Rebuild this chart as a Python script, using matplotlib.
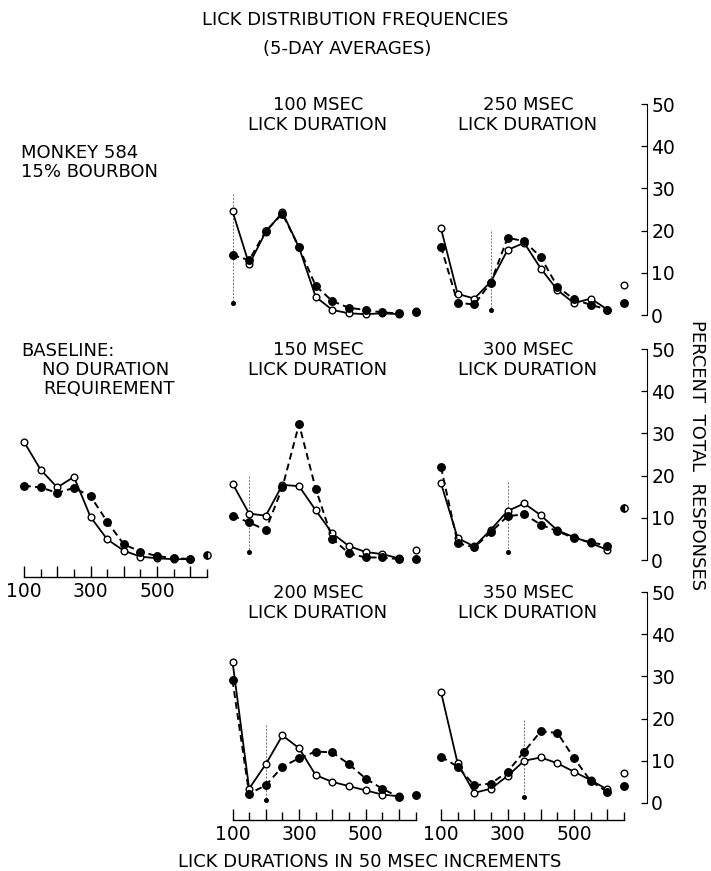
import matplotlib
matplotlib.use('Agg')
import matplotlib.pyplot as plt

plt.rcParams['font.family'] = ['DejaVu Sans']

W, H = 711, 871

# ---------------- data ----------------
durations = [100, 150, 200, 250, 300, 350, 400, 450, 500, 550, 600]
extra_x = 650
tick_major = [100, 200, 300, 400, 500, 600]
tick_major_labels = ['100', '', '300', '', '500', '']
tick_minor = [150, 250, 350, 450, 550, 650]
pct_ticks = [0, 10, 20, 30, 40, 50]

# baseline: no duration requirement
base_open = [28.0, 21.4, 17.2, 19.7, 10.2, 4.9, 2.2, 0.8, 0.4, 0.2, 0.2]
base_filled = [17.6, 17.2, 15.9, 17.1, 15.1, 9.1, 3.7, 2.0, 0.9, 0.5, 0.2]
base_extra_half = 1.1

# 100 msec
open_100 = [24.6, 12.0, 19.7, 24.3, 16.0, 4.3, 1.2, 0.4, 0.2, 0.4, 0.2]
filled_100 = [14.2, 13.0, 19.9, 24.0, 16.0, 6.9, 3.3, 1.7, 1.2, 0.6, 0.4]
open_100_extra = 0.9
filled_100_extra = 0.8

# 250 msec
open_250 = [20.5, 5.0, 3.9, 7.9, 15.4, 17.1, 11.0, 5.9, 2.8, 3.9, 1.3]
filled_250 = [16.2, 2.9, 2.5, 7.7, 18.3, 17.5, 13.7, 6.7, 3.7, 2.4, 1.3]
open_250_extra = 7.1
filled_250_extra = 2.9

# 150 msec
open_150 = [18.1, 11.0, 10.5, 17.8, 17.5, 11.8, 6.3, 3.3, 1.9, 1.4, 0.4]
filled_150 = [10.5, 8.9, 7.1, 17.2, 32.2, 16.9, 5.0, 1.6, 0.6, 0.6, 0.2]
open_150_extra = 2.3
filled_150_extra = 0.2

# 300 msec
open_300 = [18.2, 5.2, 3.2, 7.2, 11.6, 13.4, 10.6, 7.0, 5.4, 4.0, 2.4]
filled_300 = [22.0, 4.0, 3.0, 6.6, 10.4, 10.8, 8.4, 6.8, 5.2, 4.2, 3.4]
half_300_extra = 12.4

# 200 msec
open_200 = [33.5, 3.4, 9.2, 16.0, 13.0, 6.6, 5.0, 4.0, 3.0, 2.0, 1.6]
filled_200 = [29.1, 2.2, 4.2, 8.6, 10.6, 12.2, 12.0, 9.2, 5.8, 3.4, 1.4]
filled_200_extra = 2.0

# 350 msec
open_350 = [26.3, 9.4, 2.4, 3.4, 6.4, 10.0, 10.8, 9.4, 7.4, 5.4, 3.2]
filled_350 = [11.0, 8.6, 4.2, 4.6, 7.4, 12.2, 17.0, 16.6, 10.6, 5.2, 2.6]
open_350_extra = 7.2
filled_350_extra = 4.0

# criterion (required lick duration) markers
crit_x = {'100': 100, '250': 250, '150': 150, '300': 300, '200': 200, '350': 350}
crit_top = {'100': 28.7, '250': 20.0, '150': 20.0, '300': 18.5, '200': 18.4, '350': 19.7}
crit_dot = {'100': 2.8, '250': 1.2, '150': 2.0, '300': 2.0, '200': 0.8, '350': 1.4}

# ---------------- layout helpers ----------------
fig = plt.figure(figsize=(W / 100, H / 100), dpi=100)

def fx(px):
    return px / W

def fy(py):
    return 1 - py / H

K = 183 / 550.0   # px per msec
S = 4.22          # px per percent
XLIM = (85, 665)
YLIM = (-4, 52)
FS = 13

def make_ax(x100, y0):
    left = x100 - (100 - XLIM[0]) * K
    width = (XLIM[1] - XLIM[0]) * K
    top = y0 - YLIM[1] * S
    bottom = y0 - YLIM[0] * S
    ax = fig.add_axes([fx(left), fy(bottom), width / W, (bottom - top) / H])
    ax.set_xlim(*XLIM)
    ax.set_ylim(*YLIM)
    ax.patch.set_alpha(0)
    for sp in ax.spines.values():
        sp.set_visible(False)
    ax.set_xticks([])
    ax.set_yticks([])
    return ax

def plot_series(ax, op, fi):
    ax.plot(durations, op, '-', color='k', lw=1.3, marker='o', ms=4.8,
            mfc='white', mec='k', mew=1.0, zorder=3)
    ax.plot(durations, fi, color='k', lw=1.4, ls=(0, (3.5, 2.2)), marker='o',
            ms=5.4, mfc='k', mec='k', zorder=4)

def extra_open(ax, v):
    ax.plot([extra_x], [v], 'o', ms=4.8, mfc='white', mec='k', mew=1.0, zorder=3)

def extra_filled(ax, v):
    ax.plot([extra_x], [v], 'o', ms=5.4, mfc='k', mec='k', zorder=4)

def extra_half(ax, v):
    ax.plot([extra_x], [v], 'o', ms=5.2, mfc='k', mfcalt='white', fillstyle='left',
            mec='k', mew=1.0, zorder=4)

def crit(ax, key):
    c = crit_x[key]
    ax.plot([c, c], [crit_top[key], crit_dot[key]], color='0.45', lw=0.7,
            ls=(0, (2, 1.5)), zorder=1)
    ax.plot([c], [crit_dot[key]], 'o', ms=2.6, color='k', zorder=2)

def bottom_axis(ax):
    sp = ax.spines['bottom']
    sp.set_visible(True)
    sp.set_bounds(100, 650)
    sp.set_linewidth(1.0)
    ax.set_xticks(tick_major, tick_major_labels)
    ax.set_xticks(tick_minor, minor=True)
    ax.tick_params(axis='x', which='major', direction='in', length=8, width=1.0,
                   pad=4, labelsize=13.5)
    ax.tick_params(axis='x', which='minor', direction='in', length=5.5, width=1.0)

def right_axis(ax):
    sp = ax.spines['right']
    sp.set_visible(True)
    sp.set_bounds(0, 50)
    sp.set_position(('outward', 13))
    sp.set_linewidth(0.8)
    ax.yaxis.tick_right()
    ax.set_yticks(pct_ticks)
    ax.tick_params(axis='y', direction='in', length=4, width=0.9, pad=3,
                   labelsize=13.5, left=False, right=True)

X_BASE, X_MID, X_RIGHT = 24, 232.5, 441
Y0 = [315, 560, 803]

def panel_title(xc, y0, name):
    fig.text(fx(xc), fy(y0 - 210), name, ha='center', va='center', fontsize=FS)
    fig.text(fx(xc), fy(y0 - 190), 'LICK DURATION', ha='center', va='center', fontsize=FS)

# ---------------- row 1 ----------------
ax = make_ax(X_MID, Y0[0])
plot_series(ax, open_100, filled_100)
extra_open(ax, open_100_extra)
extra_filled(ax, filled_100_extra)
crit(ax, '100')
panel_title(318, Y0[0], '100 MSEC')

ax = make_ax(X_RIGHT, Y0[0])
plot_series(ax, open_250, filled_250)
extra_open(ax, open_250_extra)
extra_filled(ax, filled_250_extra)
crit(ax, '250')
right_axis(ax)
panel_title(528, Y0[0], '250 MSEC')

# ---------------- row 2 ----------------
ax = make_ax(X_BASE, Y0[1])
plot_series(ax, base_open, base_filled)
extra_half(ax, base_extra_half)
bottom_axis(ax)

ax = make_ax(X_MID, Y0[1])
plot_series(ax, open_150, filled_150)
extra_open(ax, open_150_extra)
extra_filled(ax, filled_150_extra)
crit(ax, '150')
panel_title(318, Y0[1], '150 MSEC')

ax = make_ax(X_RIGHT, Y0[1])
plot_series(ax, open_300, filled_300)
extra_half(ax, half_300_extra)
crit(ax, '300')
right_axis(ax)
panel_title(528, Y0[1], '300 MSEC')

# ---------------- row 3 ----------------
ax = make_ax(X_MID, Y0[2])
plot_series(ax, open_200, filled_200)
extra_filled(ax, filled_200_extra)
crit(ax, '200')
bottom_axis(ax)
panel_title(318, Y0[2], '200 MSEC')

ax = make_ax(X_RIGHT, Y0[2])
plot_series(ax, open_350, filled_350)
extra_open(ax, open_350_extra)
extra_filled(ax, filled_350_extra)
crit(ax, '350')
bottom_axis(ax)
right_axis(ax)
panel_title(528, Y0[2], '350 MSEC')

# ---------------- texts ----------------
fig.text(fx(355), fy(20), 'LICK DISTRIBUTION FREQUENCIES', ha='center', va='center', fontsize=FS)
fig.text(fx(347), fy(49), '(5-DAY AVERAGES)', ha='center', va='center', fontsize=FS)
fig.text(fx(21), fy(153), 'MONKEY 584', ha='left', va='center', fontsize=FS)
fig.text(fx(21), fy(172), '15% BOURBON', ha='left', va='center', fontsize=FS)
fig.text(fx(21), fy(351), 'BASELINE:', ha='left', va='center', fontsize=FS)
fig.text(fx(42), fy(370), 'NO DURATION', ha='left', va='center', fontsize=FS)
fig.text(fx(43), fy(389), 'REQUIREMENT', ha='left', va='center', fontsize=FS)
fig.text(fx(697), fy(455), 'PERCENT  TOTAL  RESPONSES', ha='center', va='center',
         rotation=270, fontsize=FS)
fig.text(fx(370), fy(862), 'LICK DURATIONS IN 50 MSEC INCREMENTS', ha='center',
         va='center', fontsize=FS)

fig.savefig('out.png', dpi=100)
